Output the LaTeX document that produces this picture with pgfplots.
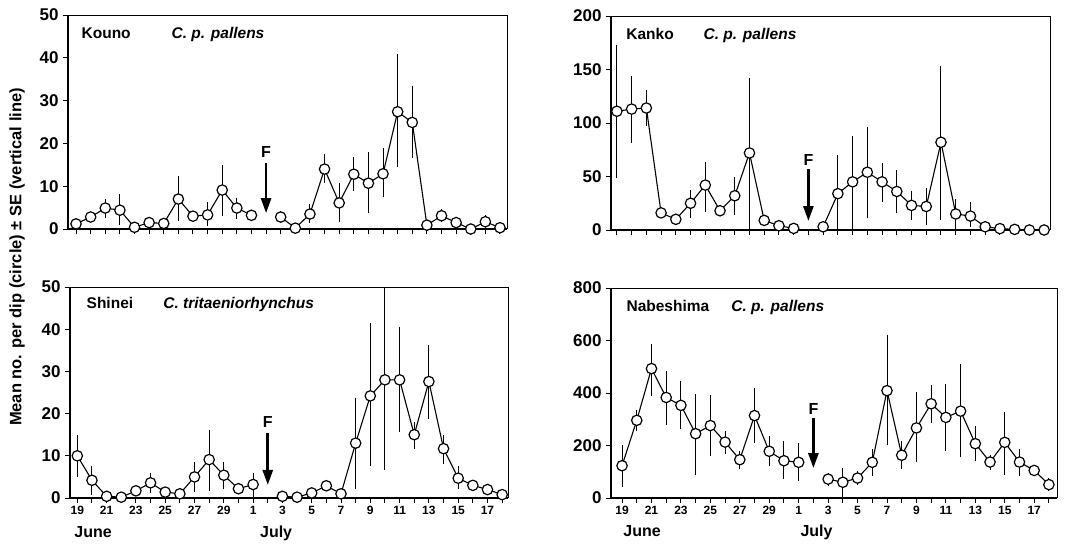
\documentclass[border=0pt]{standalone}
\usepackage{pgfplots}
\pgfplotsset{compat=1.18}
\usepackage{pgfplotstable}
\usepackage{fontspec}
\setmainfont{Liberation Sans}
\usetikzlibrary{arrows.meta}

\pgfplotstableread{
x y ep em
0 1.2 0.6 0.6
1 2.8 0.5 0.5
2 4.9 2.2 2.4
3 4.4 3.8 3.5
4 0.4 0 0
5 1.5 0.5 0.5
6 1.3 0.5 0.5
7 7.0 5.5 5.2
8 3.0 0.5 0.5
9 3.3 3.0 2.5
10 9.1 5.8 6.1
11 4.9 2.4 2.5
12 3.2 0 0
13 nan 0 0
14 2.8 1.5 1.3
15 0.2 0 0
16 3.5 2.4 2.0
17 14.0 3.5 3.2
18 6.1 4.6 4.5
19 12.8 4.0 3.9
20 10.7 7.3 7.0
21 12.9 6.1 5.5
22 27.4 13.6 12.8
23 24.9 8.5 8.3
24 0.9 0 0
25 3.1 1.6 1.4
26 1.5 0.4 0.4
27 0 0 0
28 1.7 1.5 1.5
29 0.3 0 0
}\kouno

\pgfplotstableread{
x y ep em
0 111 62 62
1 113 31 32
2 114 17 17
3 16 0 0
4 10 4 4
5 25 12 14
6 42 22 25
7 18 5 5
8 32 18 18
9 72 70 72
10 9 0 0
11 4 4 4
12 1.5 0 0
13 nan 0 0
14 3 0 0
15 34 36 34
16 45 43 45
17 54 42 43
18 45 18 19
19 36 20 20
20 23 13 14
21 22 17 17
22 82 71 73
23 15 14 15
24 13 13 10
25 3 0 0
26 1.3 0 0
27 0.6 0 0
28 0 0 0
29 0 0 0
}\kanko

\pgfplotstableread{
x y ep em
0 10.0 4.9 5.0
1 4.2 3.5 3.6
2 0.4 0 0
3 0.2 0 0
4 1.7 0 0
5 3.6 2.3 2.4
6 1.4 0 0
7 1.0 0 0
8 5.0 3.5 3.6
9 9.1 7.0 7.4
10 5.4 3.1 3.2
11 2.2 0 0
12 3.2 2.7 3.0
13 nan 0 0
14 0.4 0 0
15 0.2 0 0
16 1.2 0 0
17 2.9 0 0
18 1.0 0 0
19 13.0 10.7 10.9
20 24.2 17.3 16.5
21 28.0 22.0 21.4
22 28.0 12.5 12.4
23 15.0 3.0 3.5
24 27.6 8.7 8.8
25 11.7 3.2 3.6
26 4.7 2.8 2.5
27 3.0 0 0
28 2.0 0 0
29 0.8 0 0
}\shinei

\pgfplotstableread{
x y ep em
0 123 80 81
1 296 41 42
2 493 94 103
3 383 100 104
4 353 91 90
5 245 152 156
6 276 118 115
7 213 41 44
8 146 32 36
9 314 105 105
10 178 57 55
11 142 74 70
12 136 74 73
13 nan 0 0
14 72 23 25
15 60 54 60
16 76 26 25
17 136 51 53
18 409 213 206
19 163 53 53
20 267 136 131
21 359 73 73
22 307 129 129
23 331 181 176
24 207 66 67
25 137 28 29
26 212 114 123
27 137 50 54
28 105 16 16
29 51 25 26
}\nabe

\pgfplotsset{
  panel/.style={
    scale only axis,
    anchor=south west,
    ymin=0,
    axis x line*=bottom,
    axis y line*=left,
    axis line style={line width=1.5pt},
    every tick/.style={black, line width=1pt},
    tick align=outside,
    major tick length=5pt,
    xtick={0,...,29},
    unbounded coords=jump,
    clip=false,
    yticklabel style={font=\bfseries\fontsize{17}{17}\selectfont, /pgf/number format/assume math mode=true, xshift=-1pt},
    xticklabel style={font=\bfseries\fontsize{12}{12}\selectfont},
    after end axis/.append code={
      \draw[line width=0.8pt] (rel axis cs:0,1) -- (rel axis cs:1,1) -- (rel axis cs:1,0);
    },
  },
  labx/.style={xticklabels={19,,21,,23,,25,,27,,29,,1,,3,,5,,7,,9,,11,,13,,15,,17,}},
  nolabx/.style={xticklabels={}},
  ebar/.style={draw=none, mark=none, forget plot,
    error bars/.cd, y dir=both, y explicit, error mark=none,
    error bar style={draw=black, solid, line width=1pt}},
  series/.style={black, line width=1.1pt, mark=*, mark size=5.2pt,
    mark options={fill=white, draw=black, solid, line width=1.2pt}},
}

\newcommand{\Farrow}[3]{%
  \node[anchor=base, font=\bfseries\fontsize{16}{16}\selectfont] at (axis cs:13,#1) {F};
  \draw[line width=2.6pt, -{Triangle[width=10pt,length=15pt]}] (axis cs:13,#2) -- (axis cs:13,#3);
}

\begin{document}
\begin{tikzpicture}
\useasboundingbox (0pt,0pt) rectangle (1075pt,-547pt);

% Kouno
\begin{axis}[panel, nolabx, at={(68pt,-229pt)}, width=439pt, height=214pt,
  xmin=-0.55, xmax=29.48, ymax=50, ytick={0,10,...,50}]
\addplot[ebar] table[x=x,y=y,y error plus=ep,y error minus=em]{\kouno};
\addplot[series] table[x=x,y=y]{\kouno};
\node[anchor=base west, font=\bfseries\fontsize{15.5}{15.5}\selectfont] at (rel axis cs:0.023,0.89) {Kouno};
\node[anchor=base west, font=\bfseries\itshape\fontsize{15.5}{15.5}\selectfont] at (rel axis cs:0.228,0.89) {C. p. pallens};
\Farrow{16.8}{15.4}{3.7}
\end{axis}

% Kanko
\begin{axis}[panel, nolabx, at={(611pt,-230pt)}, width=439pt, height=214pt,
  xmin=-0.4, xmax=29.4, ymax=200, ytick={0,50,...,200}]
\addplot[ebar] table[x=x,y=y,y error plus=ep,y error minus=em]{\kanko};
\addplot[series] table[x=x,y=y]{\kanko};
\node[anchor=base west, font=\bfseries\fontsize{15.5}{15.5}\selectfont] at (rel axis cs:0.027,0.89) {Kanko};
\node[anchor=base west, font=\bfseries\itshape\fontsize{15.5}{15.5}\selectfont] at (rel axis cs:0.203,0.89) {C. p. pallens};
\Farrow{60.7}{57}{8.4}
\end{axis}

% Shinei
\begin{axis}[panel, labx, at={(70pt,-498pt)}, width=438pt, height=211pt,
  xmin=-0.5, xmax=29.4, ymax=50, ytick={0,10,...,50}]
\addplot[ebar] table[x=x,y=y,y error plus=ep,y error minus=em]{\shinei};
\addplot[series] table[x=x,y=y]{\shinei};
\node[anchor=base west, font=\bfseries\fontsize{15.5}{15.5}\selectfont] at (rel axis cs:0.03,0.896) {Shinei};
\node[anchor=base west, font=\bfseries\itshape\fontsize{15.5}{15.5}\selectfont] at (rel axis cs:0.205,0.896) {C. tritaeniorhynchus};
\Farrow{16.6}{15.4}{3.1}
\node[anchor=base west, font=\bfseries\fontsize{16}{16}\selectfont] at (rel axis cs:0.002,-0.185) {June};
\node[anchor=base west, font=\bfseries\fontsize{16}{16}\selectfont] at (rel axis cs:0.426,-0.185) {July};
\end{axis}

% Nabeshima
\begin{axis}[panel, labx, at={(611pt,-498pt)}, width=446pt, height=210pt,
  xmin=-0.75, xmax=29.55, ymax=800, ytick={0,200,...,800}]
\addplot[ebar] table[x=x,y=y,y error plus=ep,y error minus=em]{\nabe};
\addplot[series] table[x=x,y=y]{\nabe};
\node[anchor=base west, font=\bfseries\fontsize{15.5}{15.5}\selectfont] at (rel axis cs:0.027,0.886) {Nabeshima};
\node[anchor=base west, font=\bfseries\itshape\fontsize{15.5}{15.5}\selectfont] at (rel axis cs:0.262,0.886) {C. p. pallens};
\Farrow{320}{305}{114}
\node[anchor=base west, font=\bfseries\fontsize{16}{16}\selectfont] at (rel axis cs:0.02,-0.185) {June};
\node[anchor=base west, font=\bfseries\fontsize{16}{16}\selectfont] at (rel axis cs:0.417,-0.185) {July};
\end{axis}

\node[rotate=90, font=\bfseries\fontsize{16.5}{16.5}\selectfont] at (17pt,-257pt) {Mean no. per dip (circle) ± SE (vertical line)};
\end{tikzpicture}
\end{document}
